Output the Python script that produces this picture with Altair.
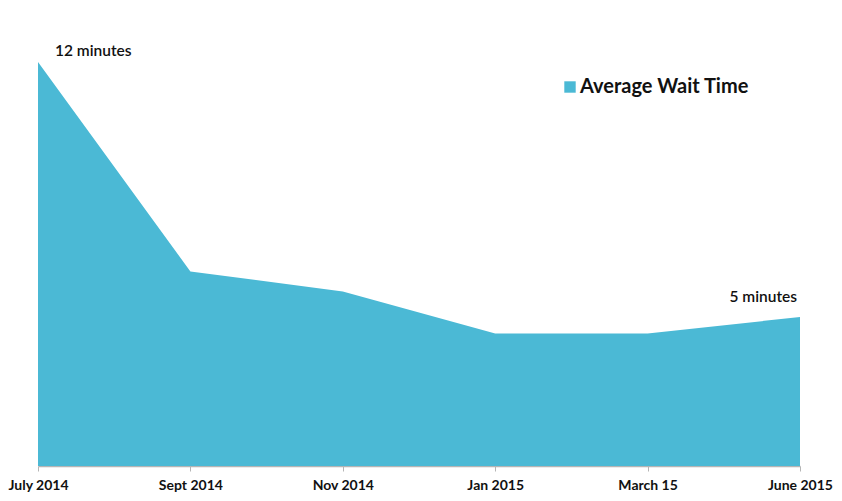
import altair as alt
import pandas as pd

periods = ["July 2014", "Sept 2014", "Nov 2014", "Jan 2015", "March 15", "June 2015"]
wait_minutes = [12, 6.25, 5.7, 4.55, 4.55, 5.0]
series_name = ["Average Wait Time"] * 6
note_text = ["12 minutes", "", "", "", "", "5 minutes"]

df = pd.DataFrame({"period": periods, "wait": wait_minutes, "series": series_name, "note": note_text})

W, H = 762, 404
color = "#4BB9D5"
xscale = alt.Scale(type="point", padding=0)

x = alt.X("period:N", sort=periods, title=None, scale=xscale,
          axis=alt.Axis(labelAngle=0, labelFont="Lato", labelFontWeight="bold", labelFontSize=14,
                        labelColor="#111111", labelPadding=7, tickSize=5, tickColor="#b5b5b5",
                        domainColor="#b5b5b5", domainWidth=1.5, grid=False))
y = alt.Y("wait:Q", title=None, scale=alt.Scale(domain=[0.91, 12], zero=False, nice=False), axis=None)

area = alt.Chart(df).mark_area(clip=True, opacity=1).encode(
    x=x, y=y,
    color=alt.Color("series:N", title=None,
                    scale=alt.Scale(range=[color]),
                    legend=alt.Legend(orient="none", legendX=522, legendY=15, symbolType="square",
                                      symbolSize=130, symbolStrokeWidth=0, symbolOpacity=1,
                                      labelFont="Lato", labelFontWeight="bold", labelFontSize=20,
                                      labelColor="#111111", labelOffset=0, labelLimit=400))
)

left_note = alt.Chart(df[df["period"] == "July 2014"]).mark_text(
    align="left", baseline="middle", dx=17, dy=-11, font="Lato", fontSize=15.5, fontWeight=600, color="#111111"
).encode(x=alt.X("period:N", sort=periods, scale=xscale), y="wait:Q", text="note:N")

right_note = alt.Chart(df[df["period"] == "June 2015"]).mark_text(
    align="right", baseline="middle", dx=-3, dy=-20, font="Lato", fontSize=15.5, fontWeight=600, color="#111111"
).encode(x=alt.X("period:N", sort=periods, scale=xscale), y="wait:Q", text="note:N")

chart = alt.layer(area, left_note, right_note).properties(
    width=W, height=H,
    background="white",
    autosize=alt.AutoSizeParams(type="none"),
    padding={"left": 30, "top": 54, "right": 34, "bottom": 26},
).configure_view(strokeWidth=0, stroke=None)

chart.save("out.html", embed_options={"renderer": "svg", "actions": False})
